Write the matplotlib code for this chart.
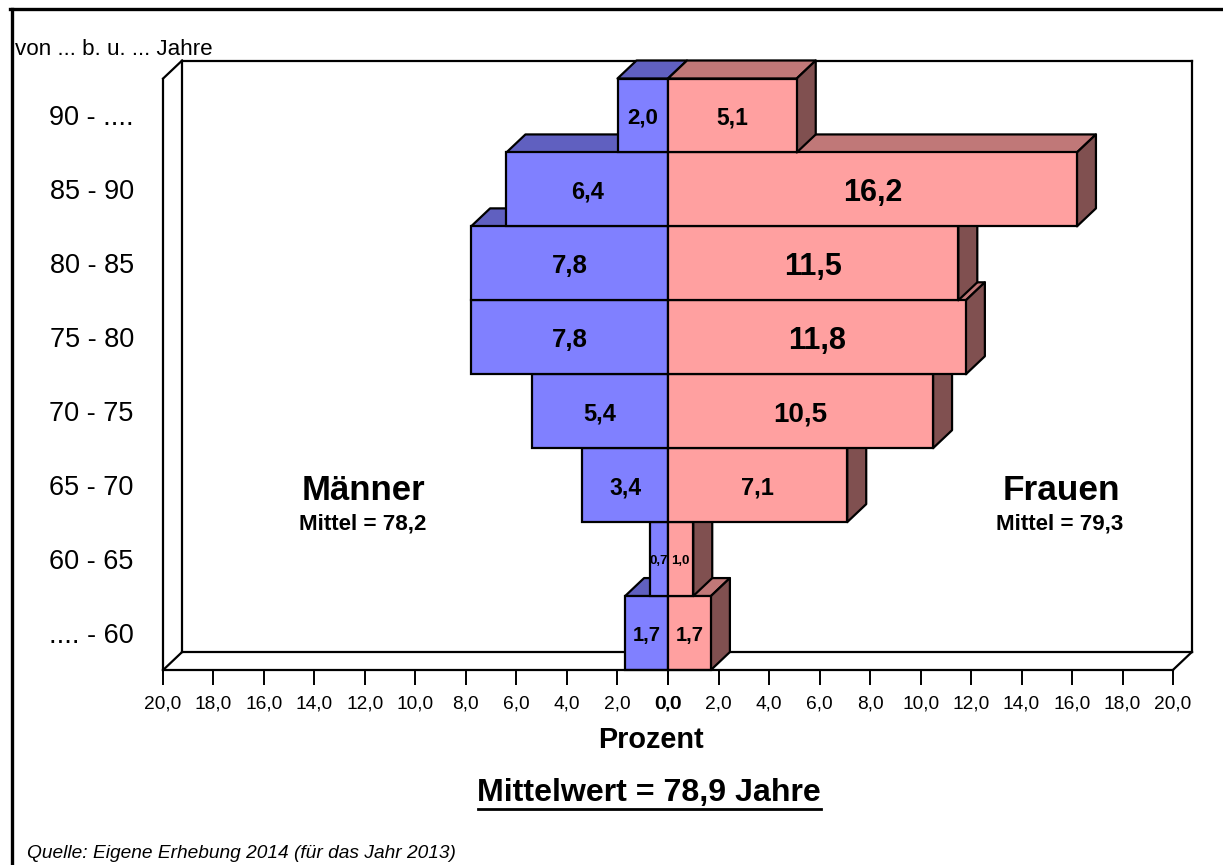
import matplotlib
matplotlib.use("Agg")
import matplotlib.pyplot as plt
from matplotlib.lines import Line2D

plt.rcParams['font.family'] = ['Liberation Sans', 'DejaVu Sans']

age_groups = [".... - 60", "60 - 65", "65 - 70", "70 - 75", "75 - 80", "80 - 85", "85 - 90", "90 - ...."]
men = [1.7, 0.7, 3.4, 5.4, 7.8, 7.8, 6.4, 2.0]
women = [1.7, 1.0, 7.1, 10.5, 11.8, 11.5, 16.2, 5.1]
men_label_sizes = [14.5, 9.5, 16.5, 17, 18.5, 18.5, 17, 16]
women_label_sizes = [14.5, 9.5, 17, 20, 22, 22, 22, 16.5]
tick_values = [20, 18, 16, 14, 12, 10, 8, 6, 4, 2, 0]

W, H = 1223, 865
fig = plt.figure(figsize=(W / 100, H / 100), dpi=100)
L, R, T, B = 163, 1173, 78.5, 670
ax = fig.add_axes([L / W, 1 - B / H, (R - L) / W, (B - T) / H])
ax.set_xlim(-20, 20)
ax.set_ylim(0, len(age_groups))
ax.patch.set_alpha(0)
for s in ('top', 'right'):
    ax.spines[s].set_visible(False)
LW = 1.6
for s in ('left', 'bottom'):
    ax.spines[s].set_linewidth(LW)

DX = 19 / ((R - L) / 40)
DY = 18 / ((B - T) / 8)
n = len(age_groups)
kw = dict(color='black', lw=LW, clip_on=False, zorder=1, solid_capstyle='projecting')
ax.plot([-20 + DX, -20 + DX], [DY, n + DY], **kw)
ax.plot([-20, -20 + DX], [n, n + DY], **kw)
ax.plot([-20 + DX, 20 + DX], [n + DY, n + DY], **kw)
ax.plot([20 + DX, 20 + DX], [n + DY, DY], **kw)
ax.plot([-20 + DX, 20 + DX], [DY, DY], **kw)
ax.plot([-20, -20 + DX], [0, DY], **kw)
ax.plot([20, 20 + DX], [0, DY], **kw)

BLUE, BLUE_TOP = '#8080FF', '#6060C0'
PINK, PINK_TOP, PINK_SIDE = '#FFA0A0', '#C07878', '#805050'
for i in range(n):
    z = 2 + i
    m, w = men[i], women[i]
    fkw = dict(edgecolor='black', lw=LW, clip_on=False, zorder=z, joinstyle='round')
    ax.fill([-m, 0, DX, -m + DX], [i + 1, i + 1, i + 1 + DY, i + 1 + DY], facecolor=BLUE_TOP, **fkw)
    ax.fill([0, w, w + DX, DX], [i + 1, i + 1, i + 1 + DY, i + 1 + DY], facecolor=PINK_TOP, **fkw)
    ax.fill([w, w + DX, w + DX, w], [i, i + DY, i + 1 + DY, i + 1], facecolor=PINK_SIDE, **fkw)
    ax.bar(-m / 2, 1, width=m, bottom=i, color=BLUE, edgecolor='black', linewidth=LW, clip_on=False, zorder=z + 0.1)
    ax.bar(w / 2, 1, width=w, bottom=i, color=PINK, edgecolor='black', linewidth=LW, clip_on=False, zorder=z + 0.1)
    ax.text(-m / 2, i + 0.5, f"{m:.1f}".replace('.', ','), ha='center', va='center_baseline', fontweight='bold',
            fontsize=men_label_sizes[i], zorder=50)
    ax.text(w / 2, i + 0.5, f"{w:.1f}".replace('.', ','), ha='center', va='center_baseline', fontweight='bold',
            fontsize=women_label_sizes[i], zorder=50)

pos = [-v - 0.005 for v in tick_values] + [v + 0.005 for v in tick_values[::-1]]
labs = [f"{v:.1f}".replace('.', ',') for v in tick_values] + [f"{v:.1f}".replace('.', ',') for v in tick_values[::-1]]
ax.set_xticks(pos, labs, fontsize=13.8)
ax.tick_params(axis='x', length=10.8, width=1.4, pad=7.5)
ax.set_yticks([i + 0.5 for i in range(n)], age_groups, fontsize=19.5)
ax.tick_params(axis='y', length=0, pad=21)


def ftext(x, y, s, **k):
    fig.text(x / W, 1 - y / H, s, **k)


ftext(15, 49.5, "von ... b. u. ... Jahre", fontsize=16.1, ha='left', va='center')
ftext(363, 490, "Männer", fontsize=25, fontweight='bold', ha='center', va='center')
ftext(363, 524, "Mittel = 78,2", fontsize=16.1, fontweight='bold', ha='center', va='center')
ftext(1061, 490, "Frauen", fontsize=25.4, fontweight='bold', ha='center', va='center')
ftext(1060, 524, "Mittel = 79,3", fontsize=16.1, fontweight='bold', ha='center', va='center')
ftext(651, 740, "Prozent", fontsize=20.8, fontweight='bold', ha='center', va='center')
ftext(649, 793, "Mittelwert = 78,9 Jahre", fontsize=23.1, fontweight='bold', ha='center', va='center')
ftext(27, 853, "Quelle: Eigene Erhebung 2014 (für das Jahr 2013)", fontsize=13.8, fontstyle='italic', ha='left', va='center')

fig.add_artist(Line2D([478 / W, 821 / W], [1 - 809 / H] * 2, color='black', lw=2, transform=fig.transFigure))
fig.add_artist(Line2D([11.5 / W, 11.5 / W], [0, 1 - 8.5 / H], color='black', lw=2.4, transform=fig.transFigure))
fig.add_artist(Line2D([10 / W, 1], [1 - 8.5 / H] * 2, color='black', lw=2.4, transform=fig.transFigure))

fig.savefig('out.png', dpi=100)
